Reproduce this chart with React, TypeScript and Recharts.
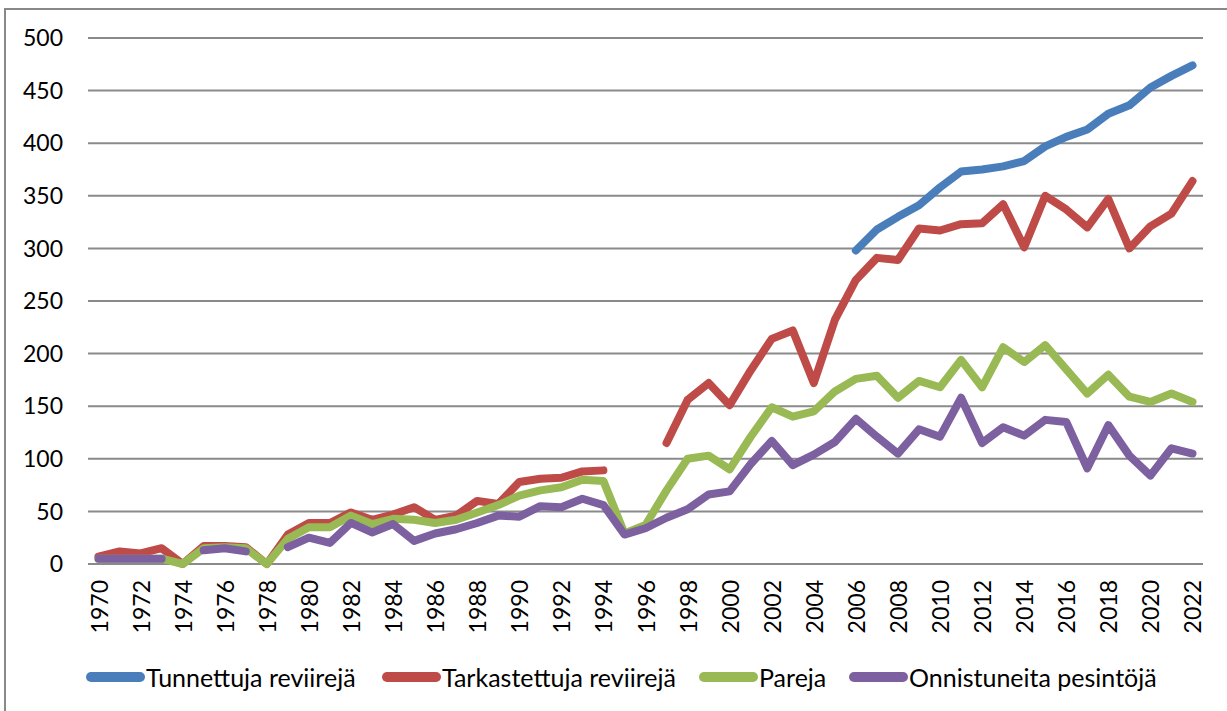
import React from "react";
import { LineChart, Line, XAxis, YAxis, CartesianGrid, Legend } from "recharts";

const years = [
  1970, 1971, 1972, 1973, 1974, 1975, 1976, 1977, 1978, 1979,
  1980, 1981, 1982, 1983, 1984, 1985, 1986, 1987, 1988, 1989,
  1990, 1991, 1992, 1993, 1994, 1995, 1996, 1997, 1998, 1999,
  2000, 2001, 2002, 2003, 2004, 2005, 2006, 2007, 2008, 2009,
  2010, 2011, 2012, 2013, 2014, 2015, 2016, 2017, 2018, 2019,
  2020, 2021, 2022,
];

const tunnettuja: (number | null)[] = [
  null, null, null, null, null, null, null, null, null, null,
  null, null, null, null, null, null, null, null, null, null,
  null, null, null, null, null, null, null, null, null, null,
  null, null, null, null, null, null, 298, 318, 330, 341,
  358, 373, 375, 378, 383, 397, 406, 413, 428, 436,
  453, 464, 474,
];

const tarkastettuja: (number | null)[] = [
  7, 12, 10, 15, 0, 17, 17, 16, 0, 28,
  39, 39, 49, 42, 47, 54, 42, 46, 60, 57,
  78, 81, 82, 88, 89, null, null, 115, 156, 172,
  151, 184, 214, 222, 172, 232, 270, 291, 289, 319,
  317, 323, 324, 342, 301, 350, 337, 320, 347, 300,
  321, 333, 364,
];

const pareja: (number | null)[] = [
  5, 5, 5, 5, 0, 15, 16, 15, 0, 24,
  35, 35, 46, 38, 43, 42, 39, 42, 49, 56,
  65, 70, 73, 80, 79, 29, 37, 70, 100, 103,
  90, 121, 149, 140, 145, 164, 176, 179, 158, 174,
  168, 194, 168, 206, 192, 208, 185, 162, 180, 159,
  154, 162, 154,
];

const onnistuneita: (number | null)[] = [
  5, 5, 5, 5, null, 13, 15, 12, null, 16,
  25, 20, 39, 30, 38, 22, 29, 33, 39, 46,
  45, 55, 54, 62, 56, 28, 34, 44, 52, 66,
  69, 95, 117, 94, 104, 116, 138, 121, 105, 128,
  121, 158, 115, 130, 122, 137, 135, 91, 132, 103,
  84, 110, 105,
];

const xTicks = years.filter((y) => y % 2 === 0);
const yTicks = [0, 50, 100, 150, 200, 250, 300, 350, 400, 450, 500];

const seriesNames = [
  "Tunnettuja reviirejä",
  "Tarkastettuja reviirejä",
  "Pareja",
  "Onnistuneita pesintöjä",
];

const data = years.map((year, i) => ({
  year,
  s0: tunnettuja[i],
  s1: tarkastettuja[i],
  s2: pareja[i],
  s3: onnistuneita[i],
}));

const FONT = "Lato, 'Open Sans', sans-serif";
const colors = ["#4A7EBB", "#BE4B48", "#98B954", "#7D60A0"];
const legendLefts = [86, 382, 699, 849];

const XTick = (props: any) => {
  const { x, y, payload } = props;
  const ty = y + 16;
  return (
    <text
      x={x}
      y={ty}
      transform={`rotate(-90, ${x}, ${ty})`}
      textAnchor="end"
      dominantBaseline="central"
      fontSize={23}
      fontFamily={FONT}
      fill="#000"
    >
      {payload.value}
    </text>
  );
};

const LegendContent = () => {
  return (
    <div style={{ position: "relative", width: 1227, height: 30 }}>
      {seriesNames.map((name, i) => (
        <div
          key={name}
          style={{
            position: "absolute",
            left: legendLefts[i],
            top: 0,
            height: 30,
            display: "flex",
            alignItems: "center",
            whiteSpace: "nowrap",
          }}
        >
          <div
            style={{
              width: 59,
              height: 10,
              borderRadius: 5,
              background: colors[i],
              marginRight: 1,
            }}
          />
          <span style={{ fontFamily: FONT, fontSize: 25, color: "#000", lineHeight: "30px" }}>
            {name}
          </span>
        </div>
      ))}
    </div>
  );
};

export default function App() {
  return (
    <div
      style={{
        position: "absolute",
        left: 0,
        top: 0,
        width: 1227,
        height: 711,
        background: "#fff",
        overflow: "hidden",
      }}
    >
      <div
        style={{
          position: "absolute",
          left: 4,
          top: 8,
          width: 1300,
          height: 800,
          borderLeft: "2px solid #898989",
          borderTop: "2px solid #898989",
        }}
      />
      <div style={{ position: "absolute", left: 0, top: 0 }}>
        <LineChart
          width={1227}
          height={711}
          data={data}
          margin={{ top: 38, right: 24, bottom: 0, left: 0 }}
        >
          <CartesianGrid vertical={false} stroke="#8A8A8A" strokeWidth={2} />
          <XAxis
            dataKey="year"
            type="number"
            domain={[1969.5, 2022.5]}
            ticks={xTicks}
            interval={0}
            axisLine={false}
            tickLine={false}
            tickSize={0}
            tickMargin={0}
            height={147}
            tick={<XTick />}
          />
          <YAxis
            domain={[0, 500]}
            ticks={yTicks}
            interval={0}
            axisLine={false}
            tickLine={false}
            tickSize={0}
            tickMargin={25}
            width={88}
            tick={{ fontSize: 23, fontFamily: FONT, fill: "#000" }}
          />
          <Legend
            verticalAlign="middle"
            layout="horizontal"
            align="center"
            wrapperStyle={{ top: 662, left: 0, width: 1227, height: 30 }}
            content={<LegendContent />}
          />
          {["s0", "s1", "s2", "s3"].map((k, i) => (
            <Line
              key={k}
              type="linear"
              dataKey={k}
              name={seriesNames[i]}
              stroke={colors[i]}
              strokeWidth={8}
              strokeLinecap="round"
              strokeLinejoin="round"
              dot={false}
              activeDot={false}
              isAnimationActive={false}
              connectNulls={false}
              legendType="line"
            />
          ))}
        </LineChart>
      </div>
    </div>
  );
}
